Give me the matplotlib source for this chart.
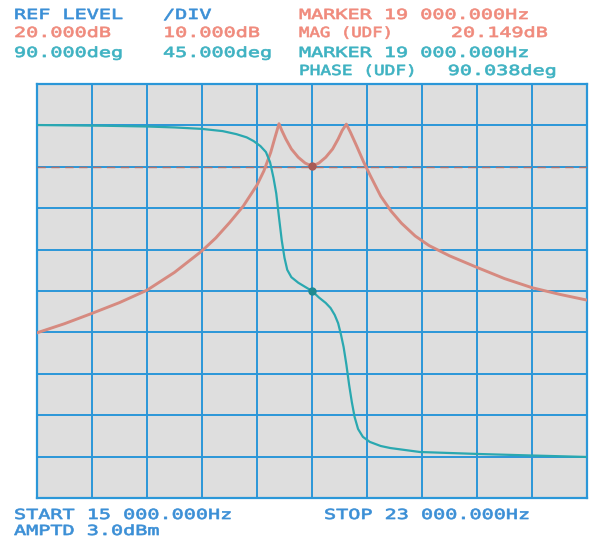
import matplotlib
matplotlib.use("Agg")
import matplotlib.pyplot as plt
from matplotlib.patheffects import AbstractPathEffect
from matplotlib.transforms import Affine2D
import numpy as np

# magnitude trace (Hz, dB)
mag_freq = [15000, 15400, 15800, 16200, 16600, 17000, 17400, 17600, 17800, 18000,
            18200, 18300, 18400, 18460, 18520, 18560, 18620, 18700, 18800, 18900,
            19000, 19100, 19200, 19300, 19380, 19440, 19500, 19560, 19650, 19750,
            19850, 20000, 20150, 20300, 20500, 20700, 21000, 21400, 21800, 22200,
            22600, 23000]
mag_db = [-20.1, -17.9, -15.4, -12.8, -9.8, -5.5, -0.3, 2.8, 6.5, 10.5,
          15.6, 19.0, 23.5, 27.0, 30.4, 28.8, 26.7, 24.3, 22.3, 20.9,
          20.149, 20.9, 22.3, 24.3, 26.7, 28.8, 30.3, 28.3, 25.0, 21.2,
          17.8, 12.9, 9.3, 6.4, 3.3, 1.0, -1.5, -4.3, -7.0, -9.2,
          -10.8, -12.2]

# phase trace (Hz, deg)
ph_freq = [15000, 16000, 16600, 17000, 17400, 17700, 17900, 18050, 18150, 18250,
           18330, 18390, 18440, 18480, 18520, 18560, 18600, 18640, 18700, 18800,
           18900, 19000, 19100, 19200, 19270, 19330, 19380, 19420, 19460, 19500,
           19540, 19580, 19620, 19670, 19740, 19840, 20000, 20140, 20570, 21440,
           22200, 23000]
ph_deg = [270.4, 269.6, 268.8, 267.8, 266.2, 263.8, 260.5, 257.0, 253.0, 247.5,
          241.0, 230.0, 213.0, 196.0, 170.0, 145.0, 126.0, 113.0, 105.0, 99.0,
          94.5, 90.038, 83.0, 77.0, 71.5, 64.0, 55.0, 43.0, 29.0, 10.0,
          -12.0, -31.0, -47.0, -60.0, -68.5, -74.0, -78.5, -80.7, -85.0, -87.2,
          -88.8, -90.4]

marker_f = 19000
marker_mag = 20.149
marker_ph = 90.038

W, H = 589, 540
fig = plt.figure(figsize=(W / 100, H / 100), dpi=100)
fig.patch.set_facecolor("white")

ax = fig.add_axes([37 / W, 1 - 498 / H, 550 / W, 414 / H])
ax.set_facecolor("#dedede")
ax.set_xlim(15000, 23000)
ax.set_ylim(-60, 40)
ax.set_xticks(np.arange(15000, 23001, 800))
ax.set_yticks(np.arange(-60, 41, 10))
ax.grid(True, color="#2b97d8", linewidth=1.4)
ax.tick_params(length=0, labelbottom=False, labelleft=False)
for s in ax.spines.values():
    s.set_color("#2b97d8")
    s.set_linewidth(1.6)

# reference level line for the magnitude
ax.axhline(20, color="#b0706c", linewidth=1.0, linestyle=(0, (6, 4)), zorder=3)

ax.plot(mag_freq, mag_db, color="#d68a80", linewidth=2.1, zorder=4)
ax.plot([marker_f], [marker_mag], "o", color="#a85a55", markersize=5, zorder=6)

ax2 = ax.twinx()
ax2.set_ylim(90 - 225, 90 + 225)
ax2.set_yticks([])
ax2.plot(ph_freq, ph_deg, color="#2aa8b0", linewidth=1.6, zorder=5)
ax2.plot([marker_f], [marker_ph], "o", color="#1f8a90", markersize=5, zorder=6)
for s in ax2.spines.values():
    s.set_visible(False)


class Widen(AbstractPathEffect):
    # stretch glyphs sideways about x0 (display px), like the wide screen font
    def __init__(self, sx, x0, lw=0.5):
        super().__init__()
        self.sx = sx
        self.x0 = x0
        self.lw = lw

    def draw_path(self, renderer, gc, tpath, affine, rgbFace=None):
        t = affine + Affine2D().translate(-self.x0, 0).scale(self.sx, 1).translate(self.x0, 0)
        gc0 = renderer.new_gc()
        gc0.copy_properties(gc)
        gc0.set_linewidth(self.lw)
        if rgbFace is not None:
            gc0.set_foreground(rgbFace)
        renderer.draw_path(gc0, tpath, t, rgbFace)
        gc0.restore()


blue = "#3b8fd6"
red = "#f08a7c"
cyan = "#3eb2c2"
fs = 10
font = "DejaVu Sans Mono"


def txt(x, y, s, c, ha="left", sx=1.45):
    fig.text(x / W, 1 - y / H, s, color=c, fontsize=fs, family=font,
             ha=ha, va="baseline", path_effects=[Widen(sx, x)])


txt(14, 19, "REF LEVEL", blue)
txt(163, 19, "/DIV", blue)
txt(14, 37, "20.000dB", red)
txt(163, 37, "10.000dB", red)
txt(14, 57, "90.000deg", cyan)
txt(163, 57, "45.000deg", cyan)

txt(299, 19, "MARKER 19 000.000Hz", red)
txt(299, 37, "MAG (UDF)", red, sx=1.25)
txt(548, 37, "20.149dB", red, ha="right")
txt(299, 57, "MARKER 19 000.000Hz", cyan)
txt(299, 75, "PHASE (UDF)", cyan, sx=1.28)
txt(557, 75, "90.038deg", cyan, ha="right")

txt(14, 519, "START 15 000.000Hz", blue)
txt(324, 519, "STOP 23 000.000Hz", blue)
txt(14, 535, "AMPTD 3.0dBm", blue)

plt.savefig("out.png", dpi=100)
plt.close()
